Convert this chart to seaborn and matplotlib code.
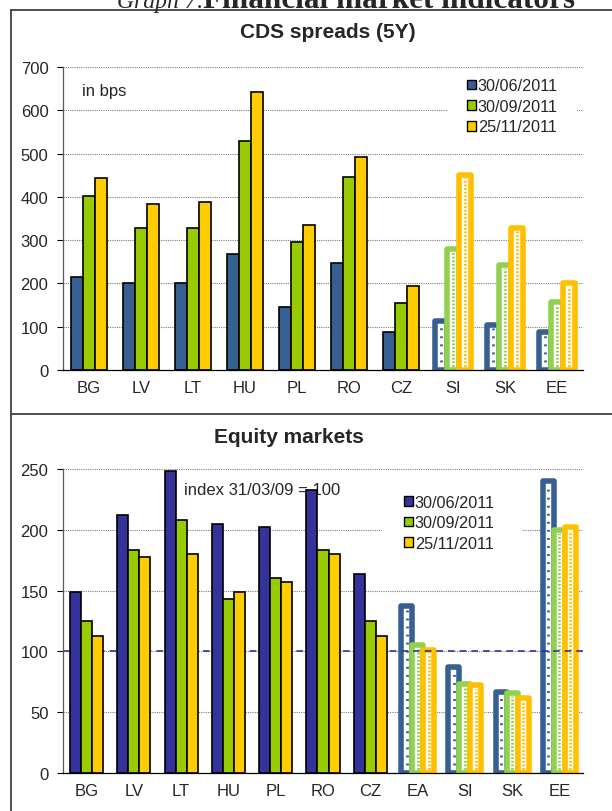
import numpy as np
import pandas as pd
import matplotlib
matplotlib.use("Agg")
import matplotlib.pyplot as plt
from matplotlib.lines import Line2D
from matplotlib.patches import Patch, Rectangle
import seaborn as sns

# ---- data -----------------------------------------------------------------
dates = ["30/06/2011", "30/09/2011", "25/11/2011"]

cds_countries = ["BG", "LV", "LT", "HU", "PL", "RO", "CZ", "SI", "SK", "EE"]
cds_jun = [216, 201, 200, 268, 146, 248, 87, 114, 105, 88]
cds_sep = [403, 328, 329, 530, 296, 445, 154, 280, 242, 157]
cds_nov = [444, 384, 387, 643, 336, 492, 195, 450, 328, 200]
cds_euro = ["SI", "SK", "EE"]
cds_ticks = [0, 100, 200, 300, 400, 500, 600, 700]

eq_countries = ["BG", "LV", "LT", "HU", "PL", "RO", "CZ", "EA", "SI", "SK", "EE"]
eq_jun = [149, 212, 248, 205, 202, 233, 164, 137, 87, 67, 240]
eq_sep = [125, 183, 208, 143, 160, 183, 125, 105, 73, 66, 200]
eq_nov = [113, 178, 180, 149, 157, 180, 113, 101, 72, 62, 202]
eq_euro = ["EA", "SI", "SK", "EE"]
eq_ticks = [0, 50, 100, 150, 200, 250]
eq_base = 100

# ---- style ----------------------------------------------------------------
sns.set_style("white")
plt.rcParams["font.family"] = ["Liberation Sans", "DejaVu Sans"]

cds_solid = ["#376092", "#99CC00", "#FFCC00"]
eq_solid = ["#333399", "#99CC00", "#FFCC00"]
hollow = ["#376092", "#92D050", "#FFC000"]

W, H = 612, 812
fig = plt.figure(figsize=(W / 100, H / 100), dpi=100)


def frac_box(left, top, right, bottom):
    """Pixel box (from top-left) -> figure-fraction rect."""
    return [left / W, 1 - bottom / H, (right - left) / W, (bottom - top) / H]


def long_table(countries, series):
    rows = []
    for d, vals in zip(dates, series):
        for c, v in zip(countries, vals):
            rows.append({"country": c, "date": d, "value": v})
    return pd.DataFrame(rows)


def draw_panel(ax, countries, series, euro, solid, ymax, ticks, width):
    df = long_table(countries, series)
    sns.barplot(data=df, x="country", y="value", hue="date",
                order=countries, hue_order=dates, palette=solid,
                saturation=1, width=width, edgecolor="black",
                linewidth=1.2, legend=False, ax=ax, zorder=2)
    ax.set_ylim(0, ymax)
    ax.set_xlim(-0.5, len(countries) - 0.5)

    pos = ax.get_position()
    px_per_unit = pos.height * H / ymax
    inset = 3.2 / px_per_unit

    # euro-area members: open bars with a dotted core
    for k, cont in enumerate(ax.containers):
        for j, p in enumerate(cont.patches):
            if countries[j] not in euro:
                continue
            p.set_facecolor("white")
            p.set_edgecolor(hollow[k])
            p.set_linewidth(4.0)
            p.set_joinstyle("round")
            p.set_zorder(1.5)
            cx = p.get_x() + p.get_width() / 2
            h = p.get_height()
            dash = (0, (0.7, 2.2)) if k == 0 else (0, (0.65, 0.65))
            ax.vlines(cx, 0, h - inset, colors=hollow[k], linewidth=2.0,
                      linestyles=dash, zorder=1.6)

    ax.set_yticks(ticks)
    ax.set_yticklabels([str(t) for t in ticks])
    ax.yaxis.grid(True, linestyle=(0, (1, 1)), color="#7f7f7f", linewidth=0.8)
    ax.xaxis.grid(False)
    ax.set_axisbelow(True)
    ax.set_xlabel("")
    ax.set_ylabel("")
    ax.set_xticks(np.arange(-0.5, len(countries), 1.0), minor=True)
    ax.tick_params(axis="x", which="major", length=0, pad=7, labelsize=12)
    ax.tick_params(axis="x", which="minor", length=4, width=0.8,
                   color="black", direction="out")
    ax.tick_params(axis="y", length=4, width=0.8, color="black",
                   direction="out", pad=6.5, labelsize=12, left=True)
    for s in ("top", "right"):
        ax.spines[s].set_visible(False)
    ax.spines["left"].set_color("#595959")
    ax.spines["left"].set_linewidth(0.9)
    ax.spines["bottom"].set_color("black")
    ax.spines["bottom"].set_linewidth(0.9)


def add_legend(ax, colors, anchor, box):
    # white backing that hides the gridlines behind the key
    ax.add_patch(Rectangle((box[0] / W, 1 - box[3] / H),
                           (box[2] - box[0]) / W, (box[3] - box[1]) / H,
                           transform=fig.transFigure, facecolor="white",
                           edgecolor="none", zorder=4))
    handles = [Patch(facecolor=c, edgecolor="black", linewidth=1.0) for c in colors]
    leg = ax.legend(handles, dates, loc="upper left", bbox_to_anchor=anchor,
                    fontsize=11.7, frameon=False, handlelength=0.55,
                    handleheight=0.55, handletextpad=0.12, labelspacing=0.34,
                    borderpad=0.4, borderaxespad=0)
    leg.set_zorder(5)
    return leg


# ---- CDS spreads ------------------------------------------------------------
ax1 = fig.add_axes(frac_box(63, 68, 583, 371))
draw_panel(ax1, cds_countries, [cds_jun, cds_sep, cds_nov], cds_euro,
           cds_solid, 700, cds_ticks, 0.69)
add_legend(ax1, cds_solid, (0.764, 0.984), (448, 74, 577, 138))
ax1.text(0.037, 0.924, "in bps", transform=ax1.transAxes, fontsize=12,
         va="center", ha="left")

# ---- Equity markets ---------------------------------------------------------
ax2 = fig.add_axes(frac_box(63, 470, 583, 774))
draw_panel(ax2, eq_countries, [eq_jun, eq_sep, eq_nov], eq_euro,
           eq_solid, 250, eq_ticks, 0.70)
ax2.axhline(eq_base, color="#333399", linestyle=(0, (4, 3)), linewidth=1.2,
            zorder=1.8)
add_legend(ax2, eq_solid, (0.643, 0.937), (382, 486, 522, 555))
ax2.text(0.2327, 0.931, "index 31/03/09 = 100", transform=ax2.transAxes,
         fontsize=12, va="center", ha="left", zorder=1.2)

# ---- titles and panel frames ----------------------------------------------
fig.text(328 / W, 1 - 38 / H, "CDS spreads (5Y)", fontsize=15,
         fontweight="bold", ha="center", va="baseline")
fig.text(289 / W, 1 - 443 / H, "Equity markets", fontsize=15,
         fontweight="bold", ha="center", va="baseline")

fig.text(117 / W, 1 - 8 / H, "Graph 7:", fontsize=17, style="italic",
         family=["Liberation Serif", "DejaVu Serif"], ha="left", va="baseline")
fig.text(203 / W, 1 - 8 / H, "Financial market indicators", fontsize=22.5,
         fontweight="bold", family=["Liberation Serif", "DejaVu Serif"],
         ha="left", va="baseline")

frame_kw = dict(transform=fig.transFigure, color="#404040", linewidth=1.3)
fig.add_artist(Line2D([10.5 / W, 1.0], [1 - 10.5 / H, 1 - 10.5 / H], **frame_kw))
fig.add_artist(Line2D([10.5 / W, 10.5 / W], [1 - 10.5 / H, 0.0], **frame_kw))
fig.add_artist(Line2D([10.5 / W, 1.0], [1 - 414.5 / H, 1 - 414.5 / H], **frame_kw))

fig.savefig("out.png", dpi=100, facecolor="white")
